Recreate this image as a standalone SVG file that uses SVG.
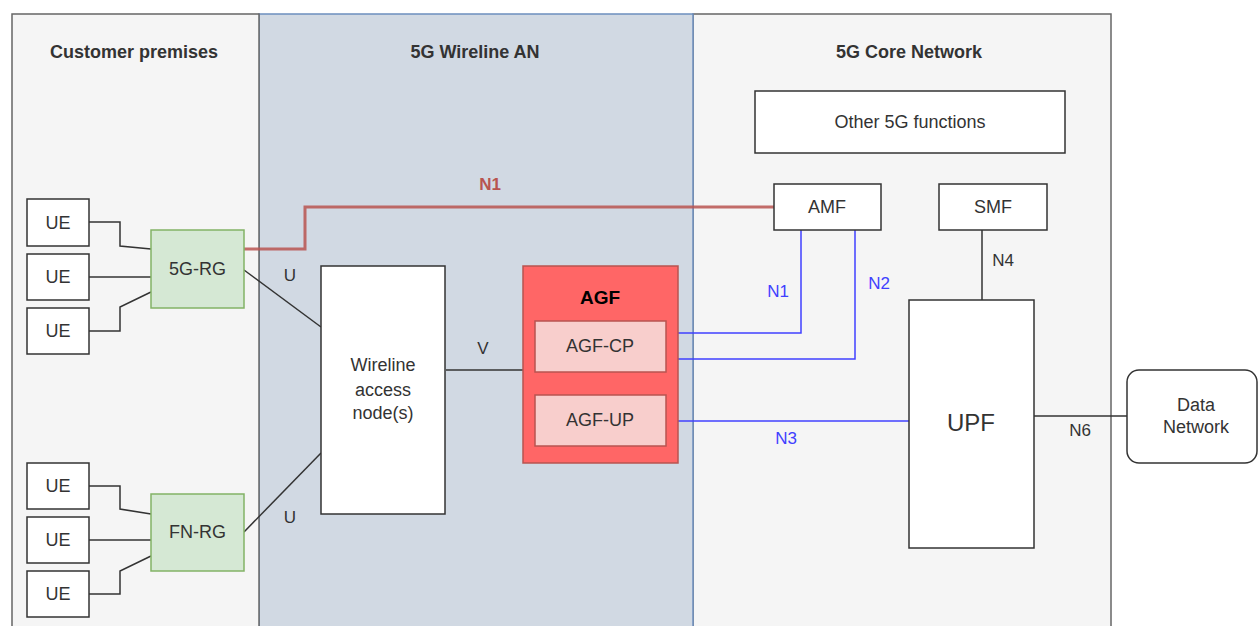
<svg xmlns="http://www.w3.org/2000/svg" width="1258" height="626" viewBox="0 0 1258 626">
<style>
text{font-family:"Liberation Sans",Arial,sans-serif;fill:#333;font-size:18px;text-anchor:middle}
.title{font-weight:bold}
.box{fill:#fff;stroke:#333;stroke-width:1.5}
.rg{fill:#d5e8d4;stroke:#82b366;stroke-width:1.5}
.sub{fill:#f8cecc;stroke:#b85450;stroke-width:1.5}
.ln{fill:none;stroke:#333;stroke-width:1.5}
.bl{fill:none;stroke:#4040ff;stroke-width:1.5}
.blt{fill:#4040ff;font-size:17px}
.lbl{font-size:17px}
</style>
<rect x="0" y="0" width="1258" height="626" fill="#fff"/>
<g id="core-network">
<rect x="693" y="14" width="418" height="630" fill="#f5f5f5" stroke="#666" stroke-width="1.5"/>
<text class="title" x="909" y="58">5G Core Network</text>
</g>
<g id="wireline-an">
<rect x="259" y="14" width="434" height="630" fill="#d1d9e3" stroke="#6c8ebf" stroke-width="1.5"/>
<text class="title" x="475" y="58">5G Wireline AN</text>
</g>
<g id="customer-premises">
<rect x="12" y="14" width="247" height="630" fill="#f5f5f5" stroke="#666" stroke-width="1.5"/>
<text class="title" x="134" y="58">Customer premises</text>
</g>
<g id="connectors">
<polyline class="ln" points="89,222 120,222 120,246 151,249"/>
<polyline class="ln" points="89,277 151,277"/>
<polyline class="ln" points="89,331 120,331 120,307 151,292"/>
<polyline class="ln" points="89,486 120,486 120,509 151,514"/>
<polyline class="ln" points="89,540 151,540"/>
<polyline class="ln" points="89,594 120,594 120,571 151,556"/>
<line class="ln" x1="244" y1="270" x2="321" y2="327"/>
<line class="ln" x1="244" y1="532" x2="321" y2="453"/>
<polyline points="244,249 305,249 305,207 774,207" fill="none" stroke="#b85450" stroke-width="3" stroke-opacity="0.85"/>
<line class="ln" x1="446" y1="370" x2="523" y2="370"/>
<polyline class="bl" points="666,333 801,333 801,230"/>
<polyline class="bl" points="666,359 855,359 855,230"/>
<line class="bl" x1="666" y1="421" x2="909" y2="421"/>
<line class="ln" x1="982" y1="230" x2="982" y2="300"/>
<line class="ln" x1="1034" y1="416" x2="1127" y2="416"/>
<text x="290" y="281" class="lbl">U</text>
<text x="290" y="523" class="lbl">U</text>
<text x="483" y="354" class="lbl">V</text>
<text x="490" y="190" style="fill:#b85450;font-weight:bold;font-size:17px">N1</text>
<text x="778" y="297" class="blt">N1</text>
<text x="879" y="289" class="blt">N2</text>
<text x="786" y="444" class="blt">N3</text>
<text x="1003" y="266" class="lbl">N4</text>
<text x="1080" y="436" class="lbl">N6</text>
</g>
<g id="ue1"><rect class="box" x="27" y="199" width="62" height="47"/><text x="58" y="229">UE</text></g>
<g id="ue2"><rect class="box" x="27" y="254" width="62" height="46"/><text x="58" y="283">UE</text></g>
<g id="ue3"><rect class="box" x="27" y="308" width="62" height="46"/><text x="58" y="337">UE</text></g>
<g id="ue4"><rect class="box" x="27" y="463" width="62" height="46"/><text x="58" y="492">UE</text></g>
<g id="ue5"><rect class="box" x="27" y="517" width="62" height="46"/><text x="58" y="546">UE</text></g>
<g id="ue6"><rect class="box" x="27" y="571" width="62" height="46"/><text x="58" y="600">UE</text></g>
<g id="rg-5g"><rect class="rg" x="151" y="230" width="93" height="78"/><text x="197.5" y="275">5G-RG</text></g>
<g id="fn-rg"><rect class="rg" x="151" y="494" width="93" height="77"/><text x="197.5" y="538">FN-RG</text></g>
<g id="wireline-access-node"><rect class="box" x="321" y="266" width="124" height="248"/>
<text x="383" y="371">Wireline</text><text x="383" y="396">access</text><text x="383" y="419">node(s)</text></g>
<g id="agf"><rect x="523" y="266" width="155" height="197" fill="#ff6666" stroke="#b85450" stroke-width="1.5"/>
<text x="600" y="304" style="font-weight:bold;font-size:19px;fill:#000">AGF</text></g>
<g id="agf-cp"><rect class="sub" x="535" y="321" width="131" height="51"/><text x="600" y="352">AGF-CP</text></g>
<g id="agf-up"><rect class="sub" x="535" y="395" width="131" height="51"/><text x="600" y="426">AGF-UP</text></g>
<g id="other-5g"><rect class="box" x="755" y="91" width="310" height="62"/><text x="910" y="128">Other 5G functions</text></g>
<g id="amf"><rect class="box" x="774" y="184" width="107" height="46"/><text x="827" y="213">AMF</text></g>
<g id="smf"><rect class="box" x="939" y="184" width="108" height="46"/><text x="993" y="213">SMF</text></g>
<g id="upf"><rect class="box" x="909" y="300" width="125" height="248"/><text x="971" y="431" style="font-size:24px">UPF</text></g>
<g id="data-network"><rect class="box" x="1127" y="370" width="130" height="93" rx="12"/>
<text x="1196" y="411">Data</text><text x="1196" y="433">Network</text></g>
</svg>
